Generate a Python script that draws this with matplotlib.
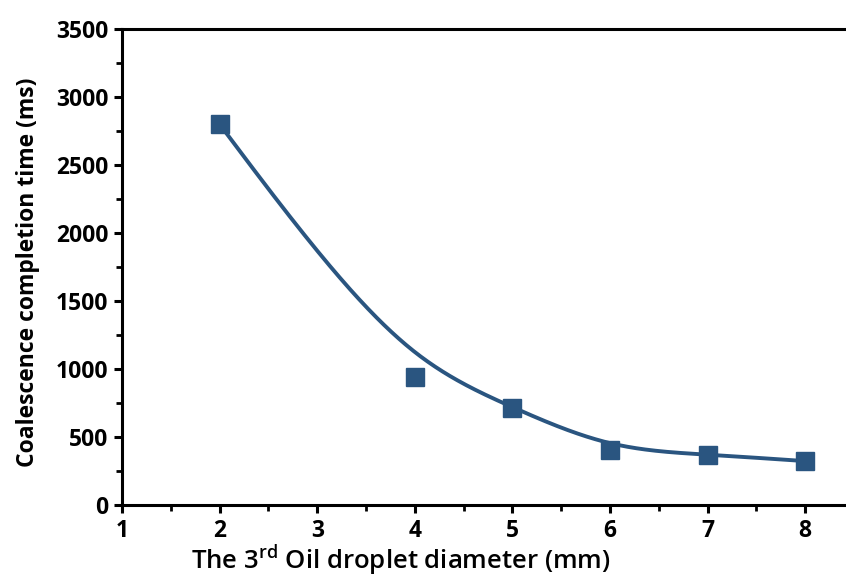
import matplotlib
matplotlib.use("Agg")
import matplotlib.pyplot as plt
from matplotlib.ticker import MultipleLocator
import numpy as np

# measured points
diameter = [2, 4, 5, 6, 7, 8]
time_ms = [2800, 940, 710, 405, 370, 320]

# fitted curve
fit_x = [2, 3, 4, 5, 6, 7, 8]
fit_y = [2800, 1870, 1125, 720, 455, 370, 323]

color = "#2a5580"
FONT = ['Open Sans', 'DejaVu Sans']
plt.rcParams['font.family'] = FONT
plt.rcParams['mathtext.fontset'] = 'custom'
plt.rcParams['mathtext.rm'] = 'Open Sans:semibold'
plt.rcParams['mathtext.it'] = 'Open Sans:semibold'


def natural_spline(x, y, xq):
    x = np.asarray(x, float); y = np.asarray(y, float)
    n = len(x); h = np.diff(x)
    A = np.zeros((n, n)); r = np.zeros(n)
    A[0, 0] = A[-1, -1] = 1
    for i in range(1, n - 1):
        A[i, i - 1] = h[i - 1]; A[i, i] = 2 * (h[i - 1] + h[i]); A[i, i + 1] = h[i]
        r[i] = 3 * ((y[i + 1] - y[i]) / h[i] - (y[i] - y[i - 1]) / h[i - 1])
    c = np.linalg.solve(A, r)
    b = (y[1:] - y[:-1]) / h - h * (2 * c[:-1] + c[1:]) / 3
    d = (c[1:] - c[:-1]) / (3 * h)
    idx = np.clip(np.searchsorted(x, xq) - 1, 0, n - 2)
    t = xq - x[idx]
    return y[idx] + b[idx] * t + c[idx] * t ** 2 + d[idx] * t ** 3


fig = plt.figure(figsize=(8.46, 5.81), dpi=100)
ax = fig.add_axes([0.1442, 0.1308, 0.8653, 0.8192])

xq = np.linspace(fit_x[0], fit_x[-1], 400)
ax.plot(xq, natural_spline(fit_x, fit_y, xq), color=color, lw=2.8, zorder=2,
        solid_capstyle='round')
ax.plot(diameter, time_ms, linestyle='none', marker='s', markersize=13,
        color=color, markeredgecolor=color, zorder=3)

ax.set_xlim(1, 8.5)
ax.set_ylim(0, 3500)
ax.xaxis.set_major_locator(MultipleLocator(1))
ax.xaxis.set_minor_locator(MultipleLocator(0.5))
ax.yaxis.set_major_locator(MultipleLocator(500))
ax.yaxis.set_minor_locator(MultipleLocator(250))

for s in ['left', 'bottom', 'top']:
    ax.spines[s].set_linewidth(2.2)
ax.spines['right'].set_visible(False)

ax.tick_params(which='major', direction='out', length=6, width=2.2,
               labelsize=16.5, pad=4, top=False, right=False)
ax.tick_params(which='minor', direction='out', length=4, width=2.0,
               top=False, right=False)
for lab in ax.get_xticklabels() + ax.get_yticklabels():
    lab.set_fontweight('bold')

fig.text(28 / 846, 1 - 272 / 581, "Coalescence completion time (ms)",
         fontsize=16.5, fontweight='bold', rotation=90,
         ha='center', va='center')
fig.text(401 / 846, 1 - 561 / 581,
         r"The 3$^{\mathrm{rd}}$ Oil droplet diameter (mm)",
         fontsize=18.5, fontweight='semibold', ha='center', va='center')

fig.savefig("out.png", dpi=100)
